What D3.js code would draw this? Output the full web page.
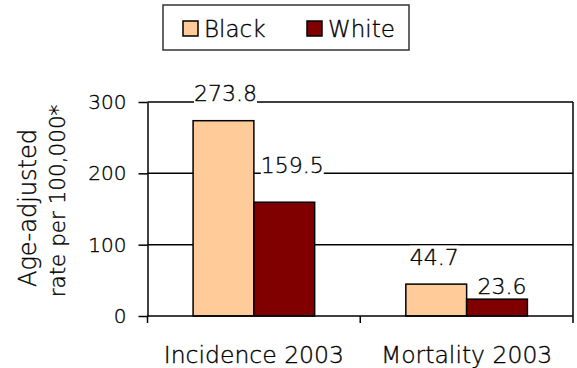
<!DOCTYPE html>
<html>
<head>
<meta charset="utf-8">
<script src="https://cdn.jsdelivr.net/npm/d3@7"></script>
<style>
  html, body { margin: 0; padding: 0; background: #fff; }
  svg { display: block; font-family: "DejaVu Sans", sans-serif; font-weight: 200; }
  svg text { fill: #000; stroke: #000; stroke-width: 0.35px; }
</style>
</head>
<body>
<svg id="chart" width="577" height="368"></svg>
<script>
// Age-adjusted incidence and mortality rates, 2003
const categories = ["Incidence 2003", "Mortality 2003"];
const seriesNames = ["Black", "White"];
const blackValues = [273.8, 44.7];
const whiteValues = [159.5, 23.6];
const yTicks = [0, 100, 200, 300];
const seriesColors = ["#FFCC99", "#800000"];

// hand-placed label nudges (dx, dy from the bar top), per category then series
const labelNudge = [[[2, -27], [8, -37]], [[-2, -27], [5, -13]]];

const svg = d3.select("#chart");
const plot = { left: 147.5, right: 573, top: 102, bottom: 316 };

const x0 = d3.scaleBand().domain(categories).range([plot.left, plot.right]).padding(0);
const x1 = d3.scaleBand().domain(seriesNames).range([0, x0.bandwidth()])
  .paddingInner(0).paddingOuter(0.75);
const y = d3.scaleLinear().domain([0, 300]).range([plot.bottom, plot.top]);
const color = d3.scaleOrdinal().domain(seriesNames).range(seriesColors);

const rows = categories.map((c, i) => ({
  category: c,
  values: [
    { name: seriesNames[0], value: blackValues[i] },
    { name: seriesNames[1], value: whiteValues[i] }
  ]
}));

// horizontal gridlines
svg.append("g").selectAll("line").data(yTicks.filter(t => t > 0)).join("line")
  .attr("x1", plot.left).attr("x2", plot.right)
  .attr("y1", d => y(d)).attr("y2", d => y(d))
  .attr("stroke", "#000").attr("stroke-width", 1.5);

// plot area right border
svg.append("line").attr("x1", plot.right).attr("x2", plot.right)
  .attr("y1", plot.top).attr("y2", plot.bottom)
  .attr("stroke", "#000").attr("stroke-width", 1.5);

// bars
const groups = svg.append("g").selectAll("g").data(rows).join("g")
  .attr("transform", d => `translate(${x0(d.category)},0)`);
groups.selectAll("rect").data(d => d.values).join("rect")
  .attr("x", d => x1(d.name))
  .attr("y", d => y(d.value))
  .attr("width", x1.bandwidth())
  .attr("height", d => y(0) - y(d.value))
  .attr("fill", d => color(d.name))
  .attr("stroke", "#000").attr("stroke-width", 1.5);

// y axis
const yAxis = svg.append("g").attr("transform", `translate(${plot.left},0)`)
  .call(d3.axisLeft(y).tickValues(yTicks).tickSize(9).tickPadding(12).tickSizeOuter(0))
  .attr("font-family", null).attr("font-size", 20);
yAxis.select(".domain").attr("stroke", "#000").attr("stroke-width", 1.5);
yAxis.selectAll(".tick line").attr("stroke", "#000").attr("stroke-width", 1.5);
yAxis.selectAll(".tick text").attr("fill", "#000");

// x axis: ticks sit on category boundaries
const xAxis = svg.append("g").attr("transform", `translate(0,${plot.bottom})`);
xAxis.append("line").attr("x1", plot.left).attr("x2", plot.right)
  .attr("stroke", "#000").attr("stroke-width", 1.5);
const bounds = categories.map(c => x0(c)).concat([x0(categories[categories.length - 1]) + x0.bandwidth()]);
xAxis.selectAll("line.tk").data(bounds).join("line").attr("class", "tk")
  .attr("x1", d => d).attr("x2", d => d).attr("y1", 0).attr("y2", 7)
  .attr("stroke", "#000").attr("stroke-width", 1.5);
xAxis.selectAll("text").data(categories).join("text")
  .attr("x", d => x0(d) + x0.bandwidth() / 2)
  .attr("y", 47)
  .attr("text-anchor", "middle")
  .attr("font-size", 23.5)
  .text(d => d);

// value labels with white backing
const labels = svg.append("g");
rows.forEach((r, ci) => {
  r.values.forEach((v, si) => {
    const cx = x0(r.category) + x1(v.name) + x1.bandwidth() / 2 + labelNudge[ci][si][0];
    const cy = y(v.value) + labelNudge[ci][si][1];
    const g = labels.append("g");
    const t = g.append("text")
      .attr("x", cx).attr("y", cy)
      .attr("text-anchor", "middle")
      .attr("dominant-baseline", "central")
      .attr("font-size", 22)
      .text(v.value.toFixed(1));
    const bb = t.node().getBBox();
    g.insert("rect", "text")
      .attr("x", bb.x).attr("y", bb.y + 1)
      .attr("width", bb.width).attr("height", bb.height - 2)
      .attr("fill", "#fff");
  });
});

// y axis title
const yTitle = svg.append("text")
  .attr("transform", "rotate(-90)")
  .attr("text-anchor", "middle");
yTitle.append("tspan").attr("x", -208).attr("y", 36)
  .attr("font-size", 24).text("Age-adjusted");
yTitle.append("tspan").attr("x", -201).attr("y", 65)
  .attr("font-size", 21.5).text("rate per 100,000*");

// legend
const legend = svg.append("g");
legend.append("rect").attr("x", 163).attr("y", 5).attr("width", 246).attr("height", 45)
  .attr("fill", "#fff").attr("stroke", "#333").attr("stroke-width", 1.5);
const legendX = [183, 307];
seriesNames.forEach((s, i) => {
  legend.append("rect").attr("x", legendX[i]).attr("y", 21)
    .attr("width", 15).attr("height", 15)
    .attr("fill", color(s)).attr("stroke", "#000").attr("stroke-width", 1.5);
  legend.append("text").attr("x", legendX[i] + 21).attr("y", 28.5)
    .attr("dominant-baseline", "central")
    .attr("font-size", 23).text(s);
});
</script>
</body>
</html>
